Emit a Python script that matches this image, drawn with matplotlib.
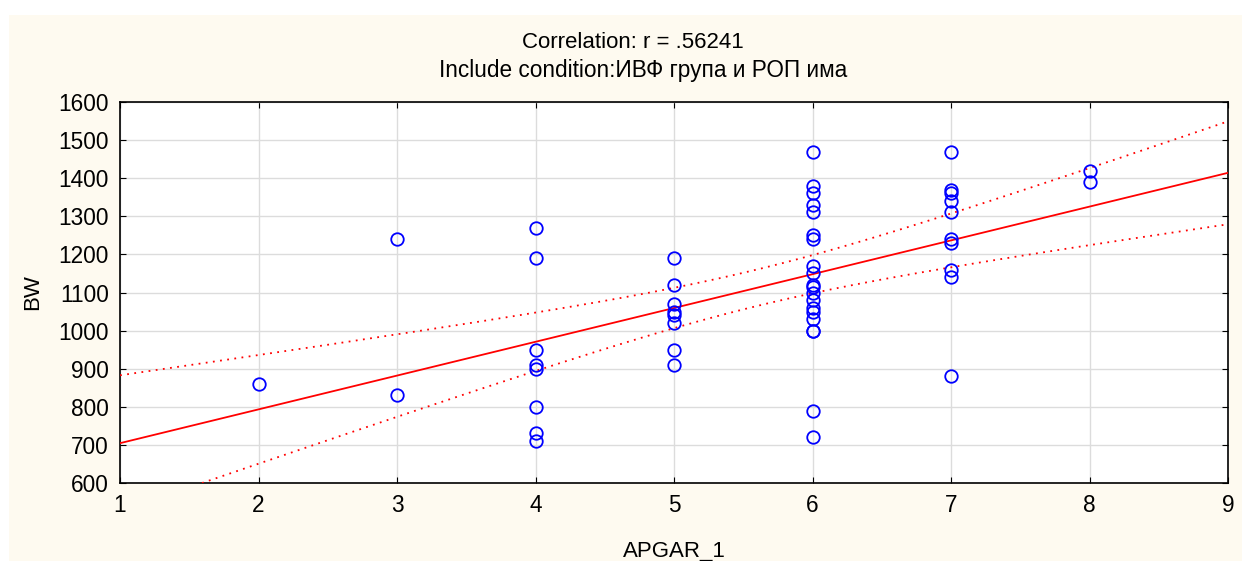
import numpy as np
import matplotlib.pyplot as plt
from matplotlib.patches import Rectangle

# APGAR_1 score and birth weight (BW), grouped by score
apgar_groups = [2, 3, 4, 5, 6, 7, 8]
bw_groups = [
    [860],
    [1240, 830],
    [1270, 1190, 950, 910, 900, 800, 730, 710],
    [1190, 1120, 1070, 1050, 1040, 1020, 950, 910],
    [1470, 1380, 1360, 1330, 1310, 1250, 1240, 1170, 1150, 1120, 1115, 1100,
     1080, 1060, 1050, 1030, 1000, 1000, 790, 720],
    [1470, 1370, 1360, 1340, 1310, 1240, 1230, 1160, 1140, 880],
    [1420, 1390],
]

title1 = "Correlation: r = .56241"
title2 = "Include condition:ИВФ група и РОП има"

plt.rcParams['font.family'] = ['Liberation Sans', 'DejaVu Sans']

x = np.array([a for a, g in zip(apgar_groups, bw_groups) for _ in g], dtype=float)
y = np.array([v for g in bw_groups for v in g], dtype=float)
n = len(x)
b1, b0 = np.polyfit(x, y, 1)
resid = y - (b0 + b1 * x)
s = np.sqrt(np.sum(resid ** 2) / (n - 2))
sxx = np.sum((x - x.mean()) ** 2)
xs = np.linspace(1, 9, 200)
fit = b0 + b1 * xs
se = s * np.sqrt(1.0 / n + (xs - x.mean()) ** 2 / sxx)
t = 2.0
upper = fit + t * se
lower = fit - t * se

fig = plt.figure(figsize=(12.42, 5.61), dpi=100, facecolor='white')
fig.patches.append(Rectangle((9 / 1242, 0), 1, 1 - 15 / 561, transform=fig.transFigure,
                             facecolor='#fefaf0', edgecolor='none', zorder=-10))
ax = fig.add_axes([120 / 1242, 1 - 483 / 561, (1228 - 120) / 1242, (483 - 102) / 561])
ax.set_facecolor('white')

ax.plot(xs, fit, color='red', lw=1.3, zorder=3)
ax.plot(xs, upper, color='red', lw=1.3, ls=(0, (1, 3)), zorder=3)
ax.plot(xs, lower, color='red', lw=1.3, ls=(0, (1, 3)), zorder=3)
ax.plot(x, y, 'o', mfc='none', mec='blue', ms=9, mew=1.3, zorder=4)

ax.set_xlim(1, 9)
ax.set_ylim(600, 1600)
ax.set_xticks(range(1, 10))
ax.set_yticks(range(600, 1601, 100))
ax.grid(True, color='#dcdcdc', lw=1)
ax.set_axisbelow(True)
ax.tick_params(direction='in', length=4, top=True, right=True, labelsize=16.3, pad=8)
for sp in ax.spines.values():
    sp.set_linewidth(1.2)

ax.set_xlabel('APGAR_1', fontsize=16, labelpad=17)
ax.set_ylabel('BW', fontsize=16, labelpad=11)
fig.text(633 / 1242, 1 - 42 / 561, title1, fontsize=16, ha='center', va='center')
fig.text(643 / 1242, 1 - 71 / 561, title2, fontsize=16.3, ha='center', va='center')

fig.savefig('out.png', dpi=100, facecolor=fig.get_facecolor())
